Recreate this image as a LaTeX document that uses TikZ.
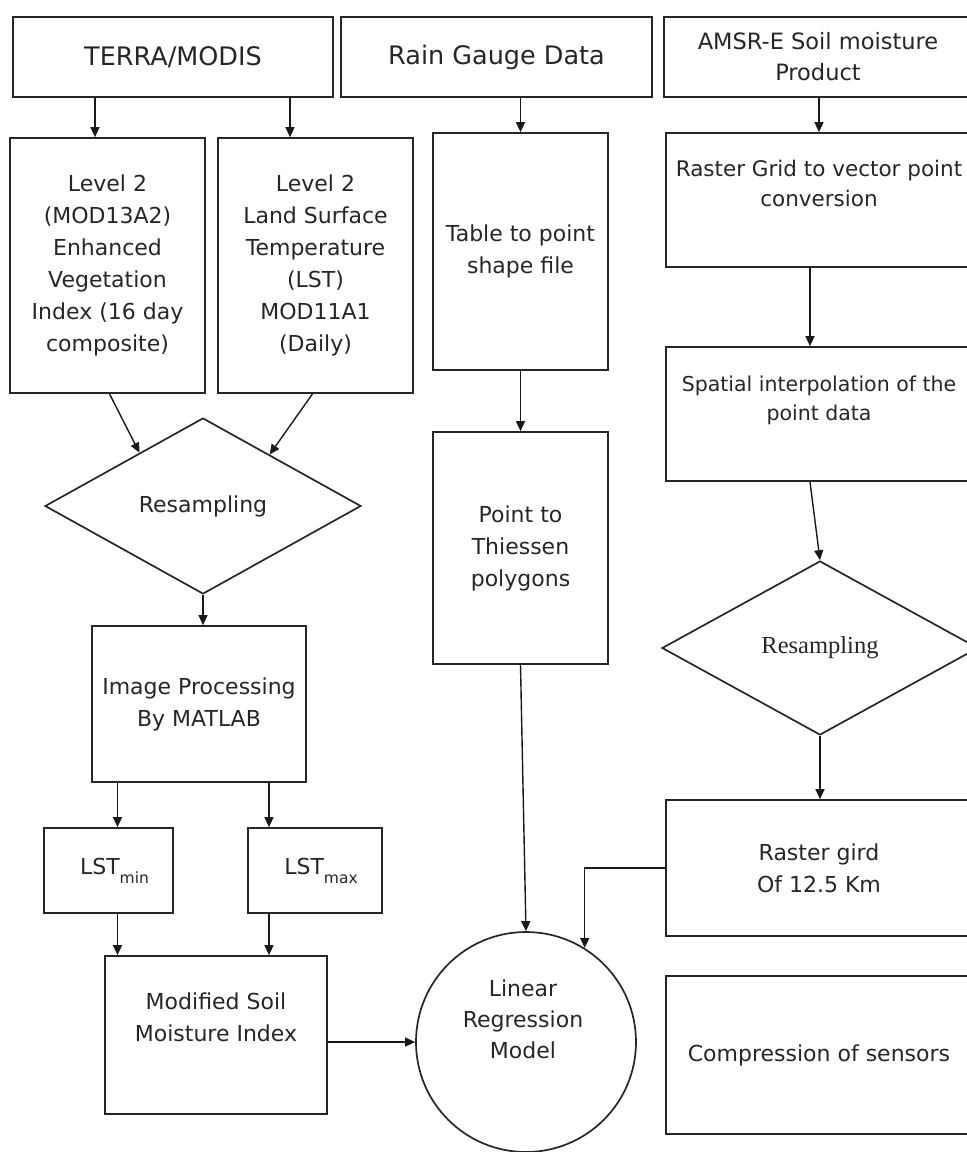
\documentclass[tikz,border=0pt]{standalone}
\usepackage{fontspec}
\setmainfont{DejaVu Sans}
\newfontfamily\tms{Liberation Serif}
\usetikzlibrary{shapes.geometric,arrows.meta,calc}
\begin{document}
\begin{tikzpicture}[x=1pt,y=-1pt,
  every node/.style={text=black!85},
  box/.style={draw=black!85, line width=1.7pt, align=center, inner sep=0pt,
    font=\fontsize{22}{32}\selectfont},
  topbox/.style={box, font=\fontsize{25.5}{32}\selectfont, minimum height=80pt},
  dia/.style={draw=black!85, line width=1.7pt, diamond, inner sep=0pt, align=center},
  arr/.style={draw=black!90, line width=1.4pt, -{Triangle[length=10pt,width=9pt]}},
]
\useasboundingbox (0,0) rectangle (967,1152);

% top row
\node[topbox, minimum width=320pt] (terra) at (173,57) {TERRA/MODIS};
\node[topbox, minimum width=311pt] (rain) at (496.5,57) {Rain Gauge Data};
\node[topbox, minimum width=308pt, font=\fontsize{22.5}{31}\selectfont] (amsr) at (818,57) {AMSR-E Soil moisture\\Product};

% second row
\node[box, minimum width=195pt, minimum height=255pt] (evi) at (107.5,265.5)
  {Level 2\\(MOD13A2)\\Enhanced\\Vegetation\\Index (16 day\\composite)};
\node[box, minimum width=195pt, minimum height=255pt] (lst) at (315.5,265.5)
  {Level 2\\Land Surface\\Temperature\\(LST)\\MOD11A1\\(Daily)};
\node[box, minimum width=175pt, minimum height=237pt] (table) at (520.5,251.5)
  {Table to point\\shape file};
\node[box, minimum width=306pt, minimum height=134pt, font=\fontsize{21.5}{30}\selectfont] (raster) at (819,200)
  {Raster Grid to vector point\\conversion\\[4pt]};

% third
\node[box, minimum width=175pt, minimum height=232pt] (point) at (520.5,548)
  {Point to\\Thiessen\\polygons};
\node[box, minimum width=306pt, minimum height=134pt, font=\fontsize{20.5}{29}\selectfont] (spatial) at (819,414)
  {Spatial interpolation of the\\point data\\[2pt]};

\node[dia, minimum width=316pt, minimum height=176pt, font=\fontsize{22}{31}\selectfont] (res1) at (203,506) {Resampling};
\node[dia, minimum width=316pt, minimum height=174pt, font=\tms\fontsize{24.5}{31}\selectfont] (res2) at (820,648) {Resampling};

\node[box, minimum width=214pt, minimum height=156pt] (img) at (199,704)
  {Image Processing\\By MATLAB};

\node[box, minimum width=129pt, minimum height=85pt] (lstmin) at (108.5,870.5)
  {\hspace*{12pt}LST\raisebox{-9pt}{\fontsize{15.5}{15}\selectfont min}};
\node[box, minimum width=134pt, minimum height=85pt] (lstmax) at (315,870.5)
  {\hspace*{12pt}LST\raisebox{-9pt}{\fontsize{15.5}{15}\selectfont max}};

\node[box, minimum width=306pt, minimum height=136pt] (rgird) at (819,868)
  {Raster gird\\Of 12.5 Km};

\node[box, minimum width=222pt, minimum height=158pt] (msmi) at (216,1035)
  {Modified Soil\\Moisture Index\\[4pt]};

\node[draw=black!85, line width=1.7pt, circle, minimum size=220pt, inner sep=0pt] (lrm) at (526,1042) {};
\node[align=center, font=\fontsize{22}{31}\selectfont] (lrmtext) at (523,1019) {Linear\\Regression\\Model};

\node[box, minimum width=306pt, minimum height=158pt] (comp) at (819,1055)
  {Compression of sensors};

% connectors
\draw[arr] ([xshift=-78pt]terra.south) -- ([xshift=-78pt]terra.south |- evi.north);
\draw[arr] ([xshift=117pt]terra.south) -- ([xshift=117pt]terra.south |- lst.north);
\draw[arr] (table.north |- rain.south) -- (table.north);
\draw[arr] (raster.north |- amsr.south) -- (raster.north);
\draw[arr] (table.south) -- (point.north);
\draw[arr] ([xshift=-9pt]raster.south) -- ([xshift=-9pt]raster.south |- spatial.north);
\draw[arr] ([xshift=-9pt]spatial.south) -- (res2.north);
\draw[arr] ([xshift=2pt]evi.south) -- ($(res1.north)!0.4!(res1.west)$);
\draw[arr] ([xshift=-3pt]lst.south) -- ($(res1.north)!0.42!(res1.east)$);
\draw[arr] (res1.south) -- (res1.south |- img.north);
\draw[arr] ([xshift=9pt]lstmin.north |- img.south) -- ([xshift=9pt]lstmin.north);
\draw[arr] ([xshift=-46pt]lstmax.north |- img.south) -- ([xshift=-46pt]lstmax.north);
\draw[arr] ([xshift=9pt]lstmin.south) -- ([xshift=9pt]lstmin.south |- msmi.north);
\draw[arr] ([xshift=-46pt]lstmax.south) -- ([xshift=-46pt]lstmax.south |- msmi.north);
\draw[arr] (msmi.east |- lrm.west) -- (lrm.west);
\draw[arr] (point.south) -- (lrm.north);
\draw[arr] (res2.south) -- (res2.south |- rgird.north);
\draw[arr] (rgird.west) -| (lrm.58);
\end{tikzpicture}
\end{document}
